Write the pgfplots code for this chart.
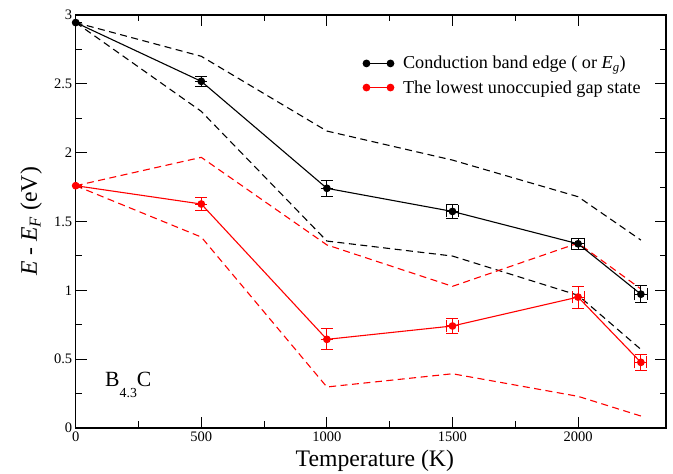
\documentclass[border=0pt]{standalone}
\usepackage{fontspec}
\setmainfont{Liberation Serif}
\usepackage{pgfplots}
\pgfplotsset{compat=1.18}
\begin{document}
\begin{tikzpicture}[x=1pt,y=1pt]
\useasboundingbox (-75.7,-46) rectangle (597.3,428);
\begin{axis}[
 at={(0,0)}, anchor=south west,
 scale only axis, width=590.3pt, height=413pt,
 xmin=0, xmax=2350, ymin=0, ymax=3,
 xtick={0,500,1000,1500,2000}, minor x tick num=1,
 ytick={0,0.5,1,1.5,2,2.5,3}, minor y tick num=1,
 tick align=inside,
 major tick length=11pt, minor tick length=6.5pt,
 axis line style={line width=1.3pt},
 every tick/.style={line width=1pt, black},
 /pgf/number format/assume math mode=true,
 /pgf/number format/1000 sep={},
 tick label style={font=\fontsize{14.5}{16}\selectfont},
 xlabel={Temperature (K)},
 ylabel={\textit{E} - \textit{E}\textsubscript{\textit{F}} (eV)},
 label style={font=\fontsize{23.7}{25}\selectfont},
 xlabel style={at={(axis description cs:0.5,0)}, anchor=base, yshift=-39pt, xshift=4pt},
 ylabel style={at={(axis description cs:-0.0656,0.5)}, anchor=base},
 legend style={draw=none, fill=none, at={(0.4816,0.910)}, anchor=north west,
   font=\fontsize{18.2}{20}\selectfont, row sep=6pt, cells={anchor=west}},
 legend image code/.code={\draw[#1] plot coordinates {(0pt,0pt) (24pt,0pt)}; \path (34pt,0pt);},
 error bars/error mark options={rotate=90, mark size=6pt, line width=1pt},
]
% dashed bounds
\addplot[black, line width=1.1pt, dash pattern=on 7pt off 4.5pt, forget plot] coordinates {(0,2.945)(500,2.70)(1000,2.157)(1500,1.946)(2000,1.68)(2250,1.365)};
\addplot[black, line width=1.1pt, dash pattern=on 7pt off 4.5pt, forget plot] coordinates {(0,2.945)(500,2.30)(1000,1.358)(1500,1.249)(2000,0.964)(2250,0.571)};
\addplot[red, line width=1.1pt, dash pattern=on 7pt off 4.5pt, forget plot] coordinates {(0,1.76)(500,1.966)(1000,1.33)(1500,1.029)(2000,1.343)(2250,1.01)};
\addplot[red, line width=1.1pt, dash pattern=on 7pt off 4.5pt, forget plot] coordinates {(0,1.76)(500,1.387)(1000,0.298)(1500,0.394)(2000,0.230)(2250,0.087)};
% main series
\addplot[black, line width=1.1pt, mark=*, mark size=3.3pt,
  error bars/.cd, x dir=both, x explicit, y dir=both, y explicit,
  error bar style={line width=1pt}]
  table[x=x, y=y, x error=ex, y error=ey] {
x y ex ey
0 2.945 0 0
500 2.518 0 0.034
1000 1.741 0 0.06
1500 1.573 25 0.05
2000 1.338 25 0.04
2250 0.972 25 0.06
};
\addlegendentry{Conduction band edge ( or \textit{E}\textsubscript{\textit{g}})}
\addplot[red, line width=1.1pt, mark=*, mark size=3.3pt,
  error bars/.cd, x dir=both, x explicit, y dir=both, y explicit,
  error bar style={line width=1pt}]
  table[x=x, y=y, x error=ex, y error=ey] {
x y ex ey
0 1.76 0 0
500 1.627 0 0.045
1000 0.644 0 0.076
1500 0.741 22 0.057
2000 0.951 24 0.08
2250 0.477 24 0.06
};
\addlegendentry{The lowest unoccupied gap state}
\node[anchor=base west, font=\fontsize{21.7}{23}\selectfont, inner sep=0pt] at (axis cs:116.6,0.305) {B\raisebox{-11.3pt}{\fontsize{13.8}{15}\selectfont 4.3}C};
\end{axis}
\end{tikzpicture}
\end{document}
